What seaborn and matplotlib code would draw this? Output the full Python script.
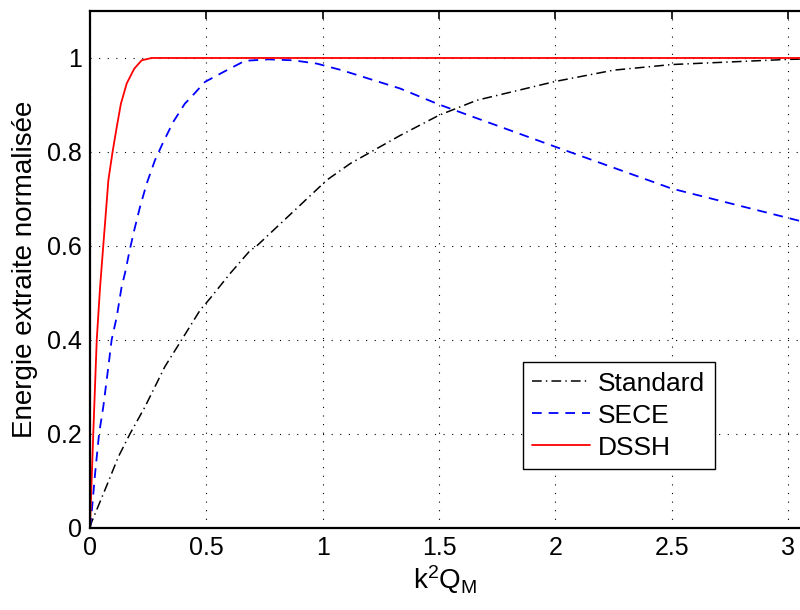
import numpy as np
import pandas as pd
import matplotlib
matplotlib.use("Agg")
import matplotlib.pyplot as plt
import seaborn as sns

# ---- data ----
std_x = [0, 0.007, 0.064, 0.122, 0.172, 0.236, 0.322, 0.394, 0.473, 0.516, 0.602,
         0.688, 0.717, 1.018, 1.118, 1.333, 1.5, 1.663, 2.0, 2.25, 2.5, 3.0, 3.1]
std_y = [0, 0.012, 0.08, 0.151, 0.2, 0.257, 0.343, 0.4, 0.463, 0.488, 0.541,
         0.59, 0.6, 0.74, 0.775, 0.835, 0.878, 0.91, 0.95, 0.974, 0.986, 0.997, 0.998]

sece_x = [0, 0.007, 0.022, 0.039, 0.057, 0.079, 0.093, 0.115, 0.136, 0.15, 0.172,
          0.19, 0.215, 0.244, 0.279, 0.315, 0.358, 0.408, 0.43, 0.494, 0.573, 0.666,
          0.767, 0.874, 0.975, 1.082, 1.333, 1.5, 2.0, 2.5, 3.1]
sece_y = [0, 0.031, 0.116, 0.2, 0.257, 0.343, 0.4, 0.449, 0.513, 0.541, 0.594,
          0.633, 0.683, 0.733, 0.782, 0.821, 0.864, 0.903, 0.914, 0.949, 0.970, 0.994,
          0.997, 0.995, 0.988, 0.974, 0.935, 0.901, 0.811, 0.722, 0.647]

dssh_x = [0, 0.014, 0.029, 0.043, 0.057, 0.079, 0.097, 0.115, 0.133, 0.158,
          0.19, 0.222, 0.265, 3.1]
dssh_y = [0, 0.2, 0.4, 0.51, 0.6, 0.74, 0.8, 0.853, 0.903, 0.946,
          0.977, 0.995, 1.0, 1.0]

labels = ["Standard", "SECE", "DSSH"]
xticks = [0, 0.5, 1, 1.5, 2, 2.5, 3]
yticks = [0, 0.2, 0.4, 0.6, 0.8, 1.0]
xticklabels = ["0", "0.5", "1", "1.5", "2", "2.5", "3"]
yticklabels = ["0", "0.2", "0.4", "0.6", "0.8", "1"]
xlabel = r"$\mathregular{k^2Q_M}$"
ylabel = "Energie extraite normalisée"

sns.set_theme(style="white")
plt.rcParams["font.family"] = ["Liberation Sans", "DejaVu Sans"]
plt.rcParams["mathtext.fontset"] = "custom"
plt.rcParams["mathtext.rm"] = "Liberation Sans"
plt.rcParams["lines.scale_dashes"] = False
for k in ["text.color", "axes.labelcolor", "xtick.color", "ytick.color",
          "axes.edgecolor"]:
    plt.rcParams[k] = "black"

fig = plt.figure(figsize=(8.0, 6.1), dpi=100)
ax = fig.add_axes([90 / 800, 1 - 527.7 / 610, 710 / 800, 516.7 / 610])

styles = [
    dict(color="black", linestyle=(0, (7, 3, 1, 3)), linewidth=1.1),
    dict(color="blue", linestyle=(0, (7, 5)), linewidth=1.3),
    dict(color="red", linestyle="-", linewidth=1.3),
]
series = [(std_x, std_y), (sece_x, sece_y), (dssh_x, dssh_y)]
for (xs, ys), lab, st in zip(series, labels, styles):
    df = pd.DataFrame({"x": xs, "y": ys})
    sns.lineplot(data=df, x="x", y="y", ax=ax, label=lab, errorbar=None, **st)

ax.set_xlim(0, 3.052)
ax.set_ylim(0, 1.1)
ax.set_xticks(xticks)
ax.set_yticks(yticks)
ax.set_xticklabels(xticklabels)
ax.set_yticklabels(yticklabels)
ax.tick_params(direction="in", length=6, width=1.2, labelsize=18, top=True,
               right=False, colors="black", labelcolor="black", pad=6)
ax.grid(True, color="black", linestyle=(0, (0.8, 5.4)), linewidth=0.8)
for name, sp in ax.spines.items():
    sp.set_color("black")
    sp.set_linewidth(1.6)
ax.spines["right"].set_visible(False)

ax.set_xlabel(xlabel, fontsize=20, labelpad=2, color="black")
ax.set_ylabel(ylabel, fontsize=20, labelpad=6, color="black")

leg = ax.legend(loc="lower left", bbox_to_anchor=(0.61, 0.114), borderaxespad=0,
                fontsize=19, frameon=True, fancybox=False, framealpha=1,
                edgecolor="black", handlelength=2.2, handletextpad=0.3,
                borderpad=0.35, labelspacing=0.3)
leg.get_frame().set_linewidth(1.0)
for t in leg.get_texts():
    t.set_color("black")

fig.savefig("out.png", dpi=100)
